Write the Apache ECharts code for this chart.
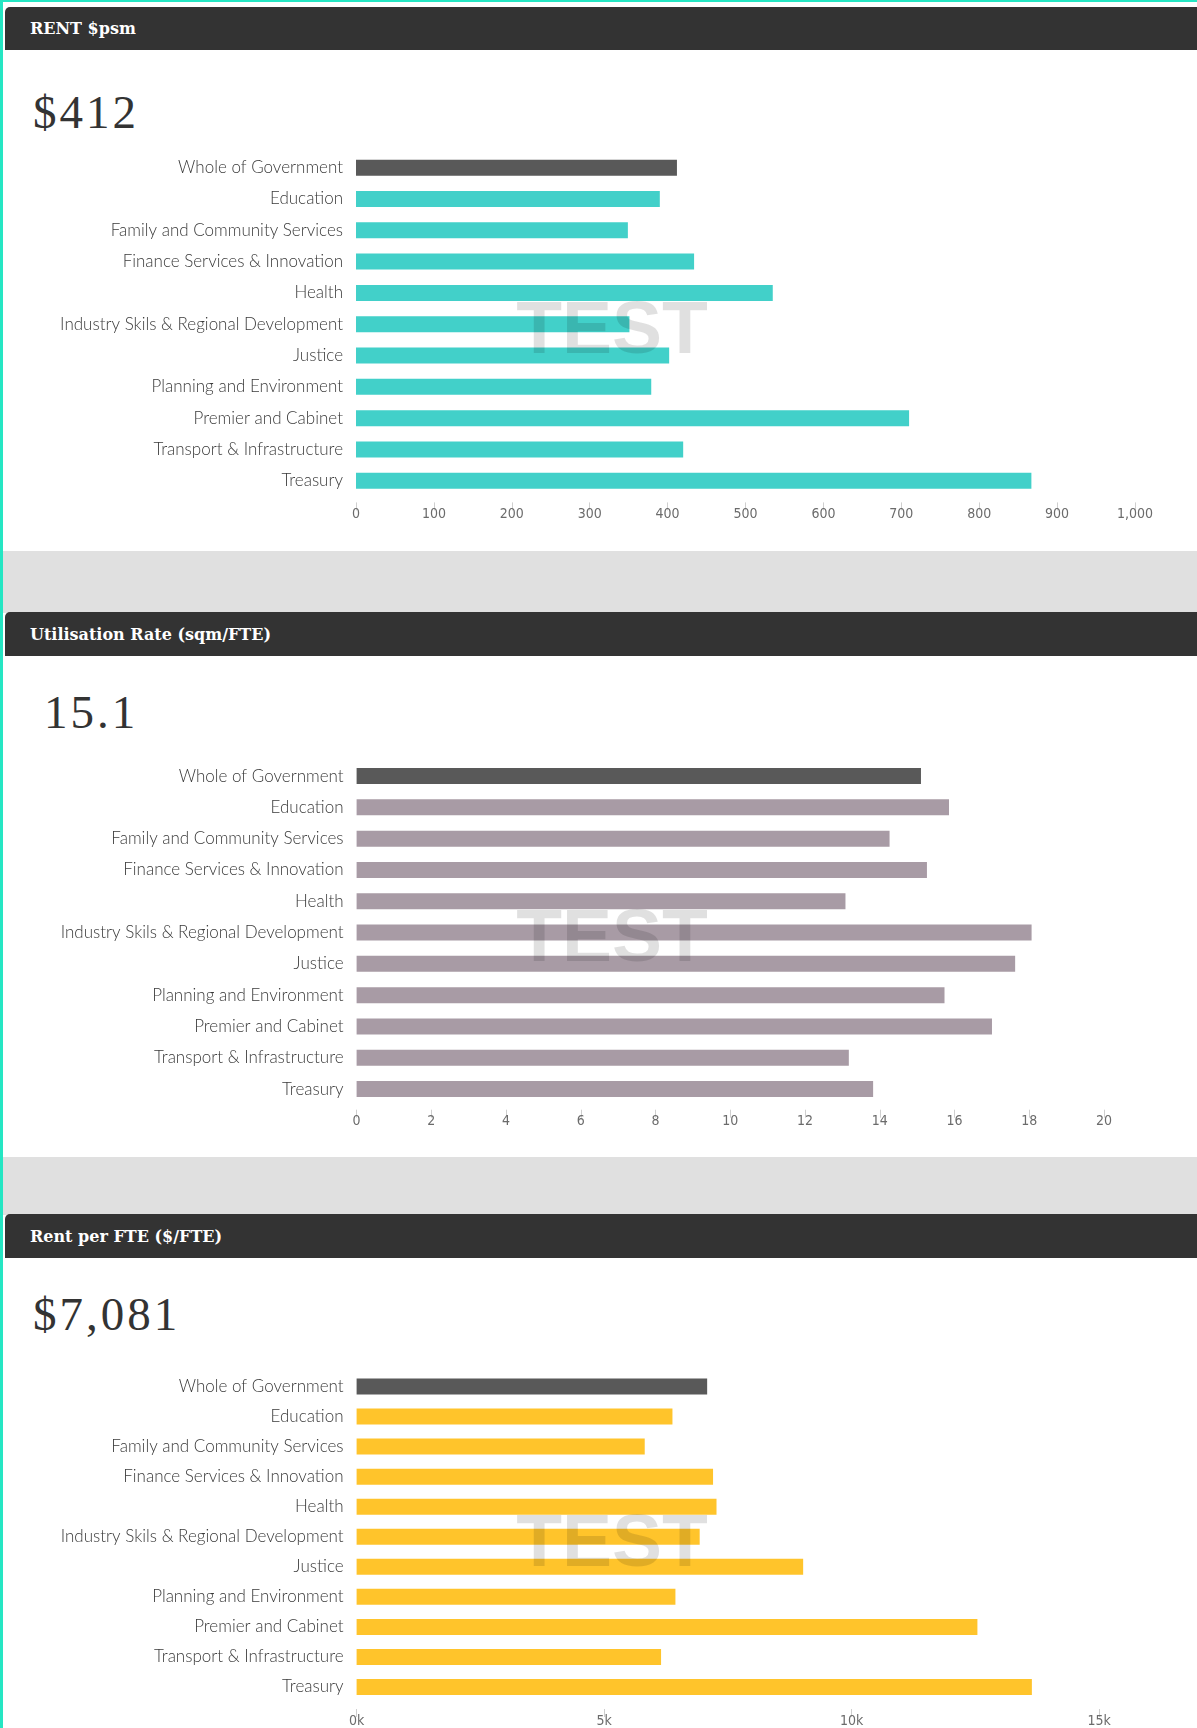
<!DOCTYPE html>
<html>
<head>
<meta charset="utf-8">
<script src="https://cdn.jsdelivr.net/npm/echarts@6/dist/echarts.min.js"></script>
<style>
  html, body { margin: 0; padding: 0; background: #fff; }
  body { width: 1197px; height: 1728px; position: relative; overflow: hidden; }
  .abs { position: absolute; }
  .teal-top { left: 0; top: 0; width: 1197px; height: 2px; background: #25e6c3; }
  .teal-left { left: 0; top: 0; width: 2.5px; height: 1728px; background: #25e6c3; }
  .band { left: 3px; width: 1194px; background: #e0e0e0; }
  .header { left: 5px; width: 1192px; background: #333333; border-radius: 5px 0 0 0;
            color: #fff; font-family: "DejaVu Serif", serif; font-weight: bold; font-size: 16px;
            box-sizing: border-box; padding-left: 25px; display: flex; align-items: center; }
  .panel { left: 5px; width: 1192px; background: #fff; border-radius: 0 0 0 5px; }
  .big { left: 33px; font-family: "Liberation Serif", serif; font-size: 47px; line-height: 47px;
         letter-spacing: 3px; color: #333; white-space: nowrap; }
  #chart { position: absolute; left: 0; top: 0; width: 1197px; height: 1728px; }
</style>
</head>
<body>
<div class="abs teal-top"></div>
<div class="abs teal-left"></div>

<div class="abs band" style="top:551px;height:62px;"></div>
<div class="abs band" style="top:1157px;height:58px;"></div>

<div class="abs panel" style="top:50px;height:501px;"></div>
<div class="abs panel" style="top:656px;height:501px;"></div>
<div class="abs panel" style="top:1258px;height:470px;"></div>

<div class="abs header" style="top:7px;height:43px;">RENT $psm</div>
<div class="abs header" style="top:612px;height:44px;">Utilisation Rate (sqm/FTE)</div>
<div class="abs header" style="top:1214px;height:44px;">Rent per FTE ($/FTE)</div>

<div class="abs big" style="top:89px;">$412</div>
<div class="abs big" style="top:689px;left:44px;">15.1</div>
<div class="abs big" style="top:1291px;">$7,081</div>

<div id="chart"></div>

<script>
// ---- Data ----
const categories = [
  "Whole of Government",
  "Education",
  "Family and Community Services",
  "Finance Services & Innovation",
  "Health",
  "Industry Skils & Regional Development",
  "Justice",
  "Planning and Environment",
  "Premier and Cabinet",
  "Transport & Infrastructure",
  "Treasury"
];
const rentPsm = [412, 390, 349, 434, 535, 351, 402, 379, 710, 420, 867];
const utilisationRate = [15.1, 15.85, 14.26, 15.26, 13.08, 18.06, 17.62, 15.73, 17.0, 13.17, 13.82];
const rentPerFte = [7081, 6380, 5820, 7200, 7270, 6930, 9020, 6440, 12540, 6150, 13640];

const rentTicks = { min: 0, max: 1000, interval: 100 };
const utilTicks = { min: 0, max: 20, interval: 2 };
const fteTicks = { min: 0, max: 15000, interval: 5000 };

const watermarkText = "TEST";

// ---- Styles ----
const WOG_COLOR = "#595959";
const colors = ["#42d0c9", "#a89ba5", "#ffc42b"];

const grids = [
  { left: 356, top: 152, width: 779, height: 344.4 },
  { left: 356.6, top: 760.4, width: 747.5, height: 344.3 },
  { left: 356.6, top: 1371.5, width: 742.6, height: 331 }
];
const axisOffsets = [6, 5, 7];
const tickSets = [rentTicks, utilTicks, fteTicks];
const seriesData = [rentPsm, utilisationRate, rentPerFte];
const formatters = [
  v => v >= 1000 ? Math.floor(v / 1000) + "," + String(v % 1000).padStart(3, "0") : String(v),
  v => String(v),
  v => (v / 1000) + "k"
];

const chart = echarts.init(document.getElementById("chart"), null, { renderer: "canvas" });

const option = {
  backgroundColor: "transparent",
  animation: false,
  grid: grids.map(g => ({ left: g.left, top: g.top, width: g.width, height: g.height, containLabel: false })),
  xAxis: grids.map((g, i) => ({
    type: "value",
    gridIndex: i,
    min: tickSets[i].min,
    max: tickSets[i].max,
    interval: tickSets[i].interval,
    offset: axisOffsets[i],
    axisLine: { show: false },
    splitLine: { show: false },
    axisTick: { show: true, length: 8, lineStyle: { color: "#cfcfcf", width: 1 } },
    axisLabel: {
      margin: 5,
      color: "#6b6b6b",
      fontSize: 14,
      fontFamily: "DejaVu Sans Condensed, Lato, sans-serif",
      formatter: formatters[i]
    }
  })),
  yAxis: grids.map((g, i) => ({
    type: "category",
    gridIndex: i,
    inverse: true,
    data: categories,
    axisLine: { show: false },
    axisTick: { show: false },
    splitLine: { show: false },
    axisLabel: {
      margin: 13,
      color: "#3a3a3a",
      fontSize: 17,
      fontWeight: 300,
      fontFamily: "Lato, 'Open Sans', sans-serif"
    }
  })),
  series: seriesData.map((d, i) => ({
    type: "bar",
    xAxisIndex: i,
    yAxisIndex: i,
    data: d,
    barWidth: 16,
    itemStyle: {
      color: p => p.dataIndex === 0 ? WOG_COLOR : colors[i]
    }
  })),
  graphic: grids.map(g => ({
    type: "text",
    x: 612,
    y: g.top + g.height / 2 + 8,
    z: 100,
    silent: true,
    style: {
      text: watermarkText,
      fill: "rgba(0,0,0,0.12)",
      font: "bold 75px 'Liberation Sans', Arial, sans-serif",
      textAlign: "center",
      textVerticalAlign: "middle"
    }
  }))
};

chart.setOption(option);
</script>
</body>
</html>
